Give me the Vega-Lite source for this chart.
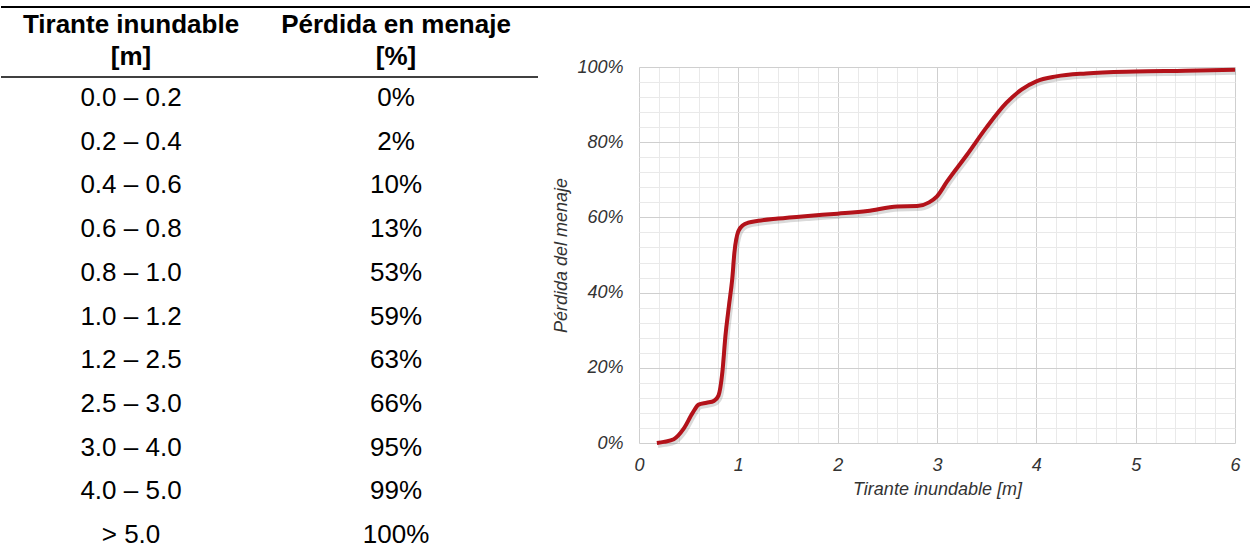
{
  "$schema": "https://vega.github.io/schema/vega-lite/v6.json",
  "autosize": {"type": "pad"},
  "padding": 0,
  "background": "white",
  "bounds": "flush",
  "center": true,
  "spacing": 0,
  "config": {"view": {"stroke": null}, "font": "Liberation Sans"},
  "datasets": {
    "tabla": [
      {"tirante": "0.0 – 0.2", "perdida": "0%"},
      {"tirante": "0.2 – 0.4", "perdida": "2%"},
      {"tirante": "0.4 – 0.6", "perdida": "10%"},
      {"tirante": "0.6 – 0.8", "perdida": "13%"},
      {"tirante": "0.8 – 1.0", "perdida": "53%"},
      {"tirante": "1.0 – 1.2", "perdida": "59%"},
      {"tirante": "1.2 – 2.5", "perdida": "63%"},
      {"tirante": "2.5 – 3.0", "perdida": "66%"},
      {"tirante": "3.0 – 4.0", "perdida": "95%"},
      {"tirante": "4.0 – 5.0", "perdida": "99%"},
      {"tirante": "> 5.0", "perdida": "100%"}
    ],
    "encabezado": [
      {"col": "Tirante", "texto": "Tirante inundable\n[m]"},
      {"col": "Perdida", "texto": "Pérdida en menaje\n[%]"}
    ],
    "curva": [
      {"x": 0.18, "y": 0},
      {"x": 0.25, "y": 0.003},
      {"x": 0.35, "y": 0.01},
      {"x": 0.45, "y": 0.038},
      {"x": 0.54, "y": 0.08},
      {"x": 0.6, "y": 0.102},
      {"x": 0.68, "y": 0.107},
      {"x": 0.755, "y": 0.112},
      {"x": 0.8, "y": 0.126},
      {"x": 0.84, "y": 0.19},
      {"x": 0.87, "y": 0.284},
      {"x": 0.905, "y": 0.364},
      {"x": 0.94, "y": 0.44},
      {"x": 0.96, "y": 0.505},
      {"x": 1.0, "y": 0.563},
      {"x": 1.05, "y": 0.58},
      {"x": 1.1, "y": 0.586},
      {"x": 1.2, "y": 0.591},
      {"x": 1.4, "y": 0.597},
      {"x": 1.7, "y": 0.604},
      {"x": 2.0, "y": 0.61},
      {"x": 2.3, "y": 0.617},
      {"x": 2.6, "y": 0.629},
      {"x": 2.8, "y": 0.63},
      {"x": 2.92, "y": 0.64},
      {"x": 3.0, "y": 0.656},
      {"x": 3.1, "y": 0.695},
      {"x": 3.3, "y": 0.766},
      {"x": 3.5, "y": 0.84},
      {"x": 3.7, "y": 0.905},
      {"x": 3.85, "y": 0.94},
      {"x": 4.0, "y": 0.962},
      {"x": 4.2, "y": 0.975},
      {"x": 4.5, "y": 0.983},
      {"x": 5.0, "y": 0.988},
      {"x": 5.5, "y": 0.99},
      {"x": 6.0, "y": 0.993}
    ]
  },
  "hconcat": [
    {
      "width": 638,
      "height": 510,
      "layer": [
        {
          "data": {"values": [{}]},
          "mark": {"type": "rule", "color": "#000000", "strokeWidth": 2},
          "encoding": {"x": {"value": 0}, "x2": {"value": 1250}, "y": {"value": 7}}
        },
        {
          "data": {"values": [{}]},
          "mark": {"type": "rule", "color": "#000000", "strokeWidth": 1.5},
          "encoding": {"x": {"value": 0}, "x2": {"value": 537}, "y": {"value": 77}}
        },
        {
          "data": {"name": "encabezado"},
          "mark": {"type": "text", "font": "Liberation Sans", "fontWeight": "bold", "fontSize": 26, "lineBreak": "\n", "lineHeight": 32, "baseline": "middle", "align": "center", "color": "#000000"},
          "encoding": {
            "x": {"field": "col", "type": "nominal", "scale": {"type": "point", "domain": ["Tirante", "Perdida"], "range": [130, 395], "padding": 0}, "axis": null},
            "y": {"value": 25},
            "text": {"field": "texto", "type": "nominal"}
          }
        },
        {
          "data": {"name": "tabla"},
          "mark": {"type": "text", "font": "Liberation Sans", "fontSize": 26, "baseline": "middle", "align": "center", "color": "#000000"},
          "encoding": {
            "x": {"datum": "Tirante", "type": "nominal"},
            "y": {"field": "tirante", "type": "ordinal", "sort": null, "scale": {"type": "point", "domain": ["0.0 – 0.2", "0.2 – 0.4", "0.4 – 0.6", "0.6 – 0.8", "0.8 – 1.0", "1.0 – 1.2", "1.2 – 2.5", "2.5 – 3.0", "3.0 – 4.0", "4.0 – 5.0", "> 5.0"], "range": [98, 535], "padding": 0}, "axis": null},
            "text": {"field": "tirante", "type": "nominal"}
          }
        },
        {
          "data": {"name": "tabla"},
          "mark": {"type": "text", "font": "Liberation Sans", "fontSize": 26, "baseline": "middle", "align": "center", "color": "#000000"},
          "encoding": {
            "x": {"datum": "Perdida", "type": "nominal"},
            "y": {"field": "tirante", "type": "ordinal", "sort": null},
            "text": {"field": "perdida", "type": "nominal"}
          }
        }
      ]
    },
    {
      "width": 596,
      "height": 376,
      "data": {"name": "curva"},
      "layer": [
        {
          "mark": {"type": "line", "interpolate": "monotone", "stroke": "#6a6a6a", "strokeWidth": 6, "opacity": 0.25, "xOffset": 1, "yOffset": 2},
          "encoding": {
            "x": {"field": "x", "type": "quantitative", "scale": {"domain": [0, 6], "nice": false, "zero": false},
              "axis": {"orient": "bottom", "values": [0, 0.2, 0.4, 0.6, 0.8, 1, 1.2, 1.4, 1.6, 1.8, 2, 2.2, 2.4, 2.6, 2.8, 3, 3.2, 3.4, 3.6, 3.8, 4, 4.2, 4.4, 4.6, 4.8, 5, 5.2, 5.4, 5.6, 5.8, 6], "grid": true, "gridColor": "#e9e9e9", "gridWidth": 1, "labels": false, "ticks": false, "domain": false, "title": null}},
            "y": {"field": "y", "type": "quantitative", "scale": {"domain": [0, 1], "nice": false, "zero": false},
              "axis": {"orient": "left", "values": [0, 0.04, 0.08, 0.12, 0.16, 0.2, 0.24, 0.28, 0.32, 0.36, 0.4, 0.44, 0.48, 0.52, 0.56, 0.6, 0.64, 0.68, 0.72, 0.76, 0.8, 0.84, 0.88, 0.92, 0.96, 1], "grid": true, "gridColor": "#e9e9e9", "gridWidth": 1, "labels": false, "ticks": false, "domain": false, "title": null}}
          }
        },
        {
          "mark": {"type": "line", "interpolate": "monotone", "stroke": "#b3121a", "strokeWidth": 4},
          "encoding": {
            "x": {"field": "x", "type": "quantitative",
              "axis": {"orient": "bottom", "values": [0, 1, 2, 3, 4, 5, 6], "format": "d", "grid": true, "gridColor": "#cfcfcf", "gridWidth": 1, "ticks": false, "domain": false, "labelFlush": false, "labelFont": "Liberation Sans", "labelFontStyle": "italic", "labelFontSize": 18, "labelColor": "#333333", "labelPadding": 13, "title": "Tirante inundable [m]", "titleFont": "Liberation Sans", "titleFontStyle": "italic", "titleFontWeight": "normal", "titleFontSize": 18, "titleColor": "#333333", "titlePadding": 6}},
            "y": {"field": "y", "type": "quantitative",
              "axis": {"orient": "left", "values": [0, 0.2, 0.4, 0.6, 0.8, 1], "format": ".0%", "grid": true, "gridColor": "#cfcfcf", "gridWidth": 1, "ticks": false, "domain": false, "labelFlush": false, "labelFont": "Liberation Sans", "labelFontStyle": "italic", "labelFontSize": 18, "labelColor": "#333333", "labelPadding": 16, "title": "Pérdida del menaje", "titleFont": "Liberation Sans", "titleFontStyle": "italic", "titleFontWeight": "normal", "titleFontSize": 18, "titleColor": "#333333", "titlePadding": 6}}
          }
        }
      ],
      "resolve": {"axis": {"x": "independent", "y": "independent"}}
    }
  ]
}
